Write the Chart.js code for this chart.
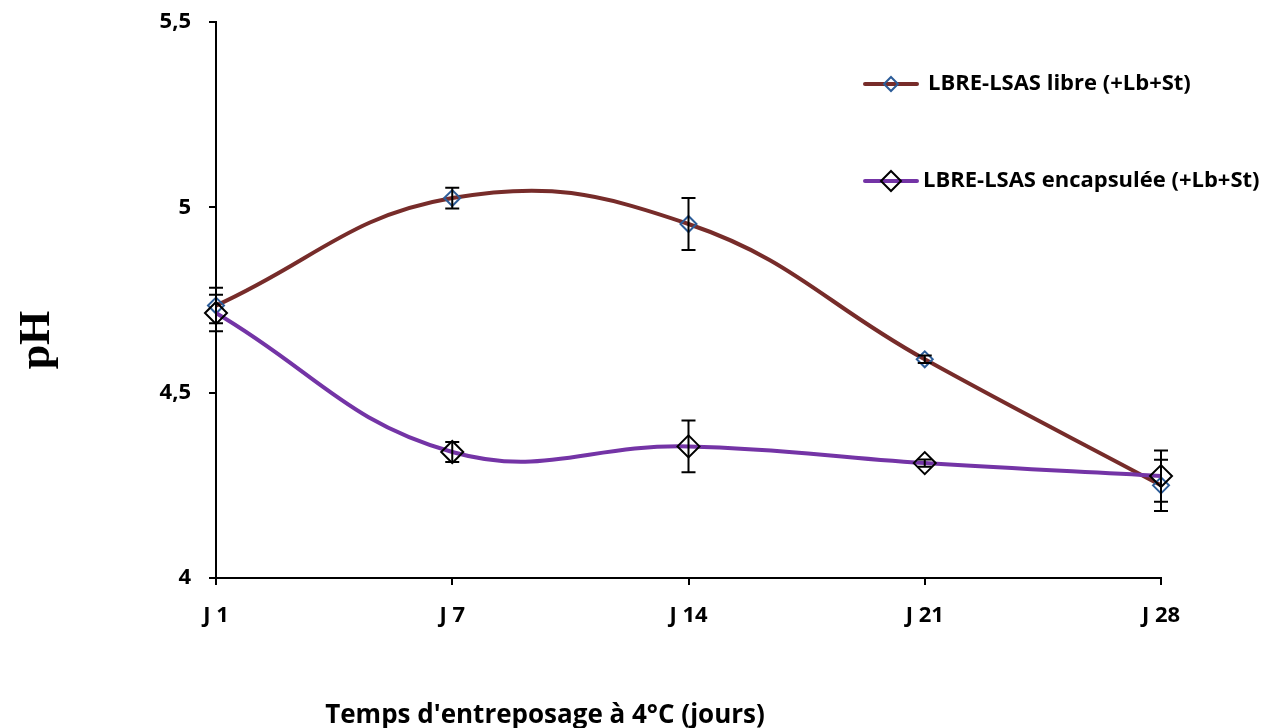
<!DOCTYPE html>
<html>
<head>
<meta charset="utf-8">
<script src="https://cdn.jsdelivr.net/npm/chart.js@4"></script>
<style>
  html, body { margin: 0; padding: 0; background: #fff; }
  #wrap { width: 1280px; height: 728px; position: relative; }
</style>
</head>
<body>
<div id="wrap"><canvas id="c" width="1280" height="728"></canvas></div>
<script>
// Storage days
const categories = ['J 1', 'J 7', 'J 14', 'J 21', 'J 28'];

// pH means and standard deviations
const libreValues = [4.735, 5.025, 4.955, 4.590, 4.250];
const libreErrors = [0.048, 0.028, 0.070, 0.010, 0.069];
const encapValues = [4.715, 4.340, 4.355, 4.310, 4.275];
const encapErrors = [0.049, 0.027, 0.070, 0.010, 0.069];

const yTicks = [4, 4.5, 5, 5.5];
const seriesNames = ['LBRE-LSAS libre (+Lb+St)', 'LBRE-LSAS encapsulée (+Lb+St)'];
const xTitle = "Temps d'entreposage à 4°C (jours)";
const yTitle = 'pH';

const FONT = '"Open Sans", "Liberation Sans", sans-serif';

// Vertical error bars with caps, drawn through the chart scales
const errorBars = {
  id: 'errorBars',
  afterDatasetsDraw(chart) {
    const ctx = chart.ctx;
    const ys = chart.scales.y;
    ctx.save();
    ctx.strokeStyle = '#000';
    ctx.lineWidth = 2;
    chart.data.datasets.forEach((ds, i) => {
      const meta = chart.getDatasetMeta(i);
      meta.data.forEach((pt, j) => {
        const e = ds.errors[j];
        const v = ds.data[j];
        const y1 = ys.getPixelForValue(v + e);
        const y2 = ys.getPixelForValue(v - e);
        const x = pt.x;
        ctx.beginPath();
        ctx.moveTo(x, y1); ctx.lineTo(x, y2);
        ctx.moveTo(x - 7, y1); ctx.lineTo(x + 7, y1);
        ctx.moveTo(x - 7, y2); ctx.lineTo(x + 7, y2);
        ctx.stroke();
      });
    });
    ctx.restore();
  }
};

// Legend and axis titles placed freely on the canvas
const decorations = {
  id: 'decorations',
  afterDraw(chart) {
    const ctx = chart.ctx;
    ctx.save();
    const rows = [
      { y: 84, textX: 928 },
      { y: 181, textX: 923 }
    ];
    chart.data.datasets.forEach((ds, i) => {
      const r = rows[i];
      ctx.strokeStyle = ds.borderColor;
      ctx.lineWidth = 4;
      ctx.lineCap = 'round';
      ctx.beginPath();
      ctx.moveTo(865, r.y); ctx.lineTo(917, r.y);
      ctx.stroke();
      const rad = ds.pointRadius - 1;
      ctx.strokeStyle = ds.pointBorderColor;
      ctx.lineWidth = 2;
      ctx.beginPath();
      ctx.moveTo(891, r.y - rad); ctx.lineTo(891 + rad, r.y);
      ctx.lineTo(891, r.y + rad); ctx.lineTo(891 - rad, r.y);
      ctx.closePath();
      ctx.stroke();
      ctx.fillStyle = '#000';
      ctx.font = 'bold 22px ' + FONT;
      ctx.textBaseline = 'middle';
      ctx.textAlign = 'left';
      ctx.fillText(ds.label, r.textX, r.y);
    });
    // x axis title
    ctx.font = 'bold 26px ' + FONT;
    ctx.textAlign = 'center';
    ctx.textBaseline = 'middle';
    ctx.fillText(xTitle, 545, 716);
    // y axis title
    ctx.translate(38, 340);
    ctx.rotate(-Math.PI / 2);
    ctx.font = 'bold 44px "Liberation Serif", "DejaVu Serif", serif';
    ctx.fillText(yTitle, 0, 0);
    ctx.restore();
  }
};

new Chart(document.getElementById('c'), {
  type: 'line',
  data: {
    labels: categories,
    datasets: [
      {
        label: seriesNames[0],
        data: libreValues,
        errors: libreErrors,
        borderColor: '#772C2A',
        borderWidth: 4,
        tension: 0.42,
        pointStyle: 'rectRot',
        pointRadius: 8,
        pointBorderWidth: 2,
        pointBorderColor: '#2C5C98',
        pointBackgroundColor: 'rgba(0,0,0,0)',
        fill: false,
        order: 2
      },
      {
        label: seriesNames[1],
        data: encapValues,
        errors: encapErrors,
        borderColor: '#7434A6',
        borderWidth: 4,
        tension: 0.42,
        pointStyle: 'rectRot',
        pointRadius: 11,
        pointBorderWidth: 2,
        pointBorderColor: '#000',
        pointBackgroundColor: 'rgba(0,0,0,0)',
        fill: false,
        order: 1
      }
    ]
  },
  options: {
    responsive: false,
    animation: false,
    layout: { padding: { top: 22, right: 119, bottom: 0, left: 0 } },
    plugins: { legend: { display: false }, tooltip: { enabled: false } },
    scales: {
      x: {
        offset: false,
        grid: { drawOnChartArea: false, drawTicks: true, tickLength: 7, color: '#000', lineWidth: 2 },
        border: { display: true, color: '#000', width: 2 },
        ticks: { color: '#000', font: { family: FONT, size: 22, weight: 'bold' }, padding: 18, maxRotation: 0 },
        afterFit(s) { s.height = 150; s.paddingLeft = 0; s.paddingRight = 0; }
      },
      y: {
        min: 4, max: 5.5,
        afterBuildTicks(s) { s.ticks = yTicks.map(v => ({ value: v })); },
        grid: { drawOnChartArea: false, drawTicks: true, tickLength: 7, color: '#000', lineWidth: 2 },
        border: { display: true, color: '#000', width: 2 },
        ticks: {
          color: '#000', font: { family: FONT, size: 22, weight: 'bold' }, padding: 18,
          callback: v => String(v).replace('.', ',')
        },
        afterFit(s) { s.width = 216; s.paddingTop = 0; s.paddingBottom = 0; }
      }
    }
  },
  plugins: [errorBars, decorations]
});
</script>
</body>
</html>
